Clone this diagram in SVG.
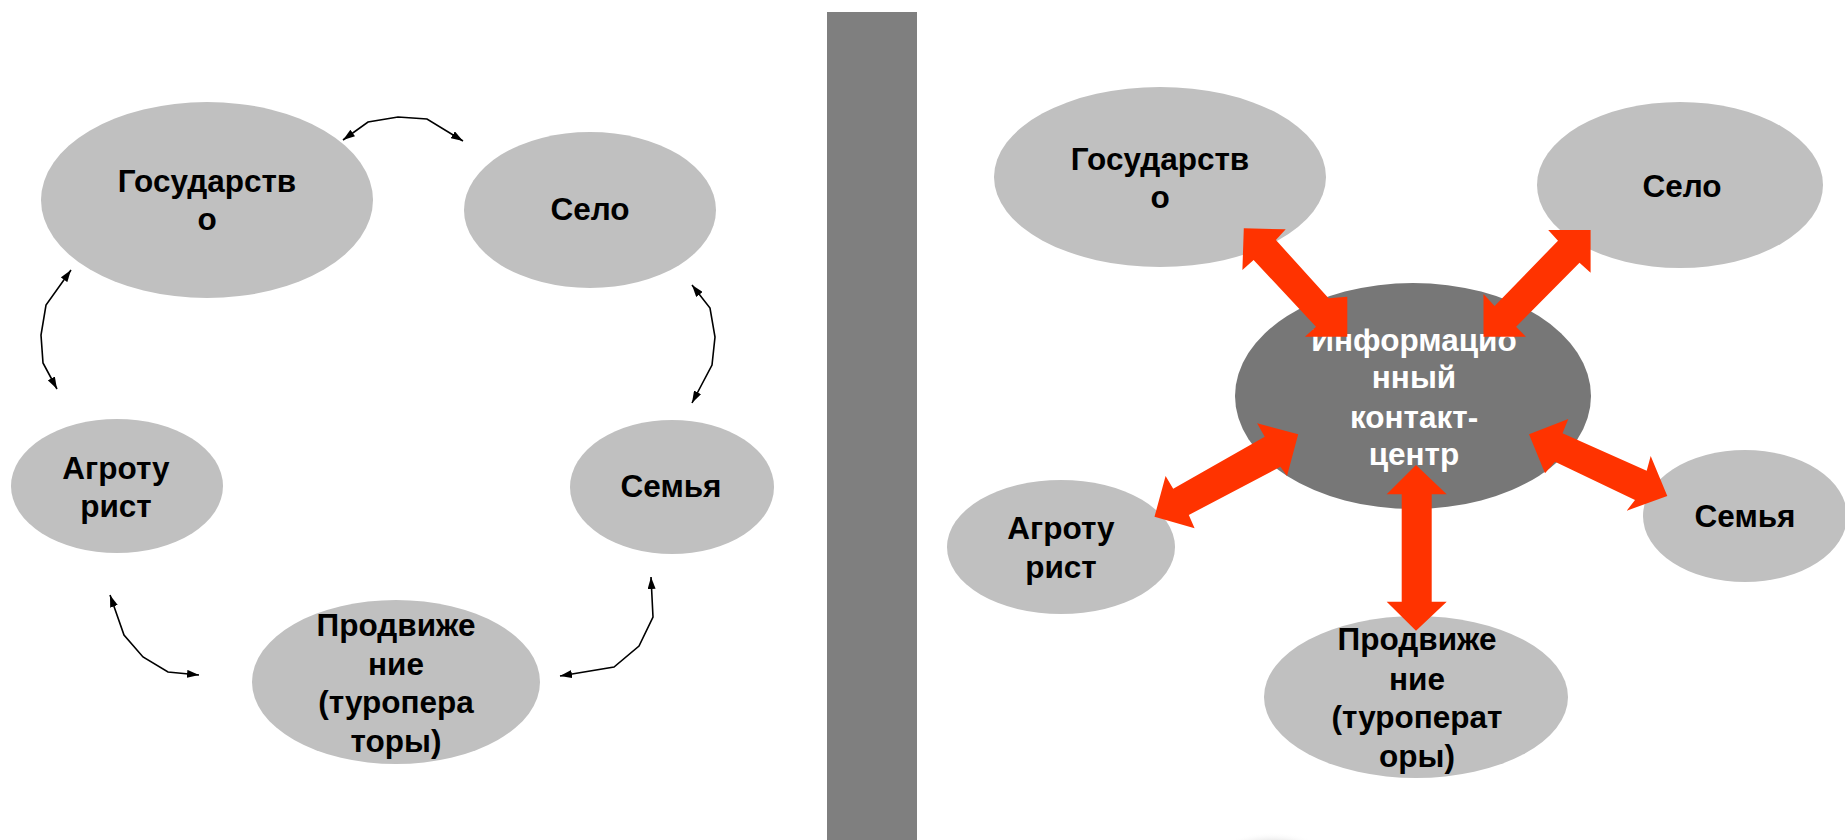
<svg xmlns="http://www.w3.org/2000/svg" width="1845" height="840" viewBox="0 0 1845 840">
<style>
.node{fill:#c0c0c0}
.center{fill:#777777}
.lbl{font-family:"Liberation Sans",Arial,sans-serif;font-weight:bold;font-size:31.5px;fill:#000;text-anchor:middle}
.wlbl{font-family:"Liberation Sans",Arial,sans-serif;font-weight:bold;font-size:31.5px;fill:#fff;text-anchor:middle}
.thin{fill:none;stroke:#000;stroke-width:1.6;marker-start:url(#ah);marker-end:url(#ah)}
.red{fill:#ff3300}
</style>
<defs>
<marker id="ah" viewBox="0 0 12 8" refX="12" refY="4" markerWidth="12" markerHeight="8" markerUnits="userSpaceOnUse" orient="auto-start-reverse">
<path d="M0,0 L12,4 L0,8 z" fill="#000"/>
</marker>
<radialGradient id="sh" cx="0.5" cy="0.5" r="0.5">
<stop offset="0.6" stop-color="#a0a0a0"/>
<stop offset="0.8" stop-color="#ececec"/>
<stop offset="1" stop-color="#ffffff" stop-opacity="0"/>
</radialGradient>
</defs>
<rect width="1845" height="840" fill="#ffffff"/>
<rect id="divider" x="827" y="12" width="90" height="828" fill="#7f7f7f"/>
<ellipse cx="1272" cy="874" rx="70" ry="42" fill="url(#sh)"/>
<ellipse cx="1272" cy="874" rx="40" ry="32" fill="#ffffff"/>

<g id="l-gos"><ellipse class="node" cx="207" cy="200" rx="166" ry="98"/><text class="lbl" x="207" y="192">Государств</text><text class="lbl" x="207" y="230">о</text></g>
<g id="l-selo"><ellipse class="node" cx="590" cy="210" rx="126" ry="78"/><text class="lbl" x="590" y="220">Село</text></g>
<g id="l-agro"><ellipse class="node" cx="117" cy="486" rx="106" ry="67"/><text class="lbl" x="116" y="479">Агроту</text><text class="lbl" x="116" y="517">рист</text></g>
<g id="l-prod"><ellipse class="node" cx="396" cy="682" rx="144" ry="82"/><text class="lbl" x="396" y="636">Продвиже</text><text class="lbl" x="396" y="675">ние</text><text class="lbl" x="396" y="713">(туропера</text><text class="lbl" x="396" y="752">торы)</text></g>
<g id="l-semya"><ellipse class="node" cx="672" cy="487" rx="102" ry="67"/><text class="lbl" x="671" y="497">Семья</text></g>

<g id="r-gos"><ellipse class="node" cx="1160" cy="177" rx="166" ry="90"/><text class="lbl" x="1160" y="170">Государств</text><text class="lbl" x="1160" y="208">о</text></g>
<g id="r-selo"><ellipse class="node" cx="1680" cy="185" rx="143" ry="83"/><text class="lbl" x="1682" y="197">Село</text></g>
<g id="r-semya"><ellipse class="node" cx="1745" cy="516" rx="102" ry="66"/><text class="lbl" x="1745" y="527">Семья</text></g>
<g id="r-agro"><ellipse class="node" cx="1061" cy="547" rx="114" ry="67"/><text class="lbl" x="1061" y="539">Агроту</text><text class="lbl" x="1061" y="578">рист</text></g>
<g id="r-prod"><ellipse class="node" cx="1416" cy="697" rx="152" ry="81"/><text class="lbl" x="1417" y="650">Продвиже</text><text class="lbl" x="1417" y="690">ние</text><text class="lbl" x="1417" y="728">(туроперат</text><text class="lbl" x="1417" y="767">оры)</text></g>
<g id="r-center"><ellipse class="center" cx="1413" cy="396" rx="178" ry="113"/><text class="wlbl" x="1414" y="351">Информацио</text><text class="wlbl" x="1414" y="388">нный</text><text class="wlbl" x="1414" y="428">контакт-</text><text class="wlbl" x="1414" y="465">центр</text></g>

<g id="connectors">
<polyline class="thin" points="343,140 368,122 398,117 427,119 463,141"/>
<polyline class="thin" points="692,285 710,308 715,337 712,365 692,403"/>
<polyline class="thin" points="71,270 46,305 41,335 43,363 57,389"/>
<polyline class="thin" points="110,595 124,635 143,657 168,672 199,675"/>
<polyline class="thin" points="560,676 614,667 639,646 653,617 651,577"/>
<polygon class="red" points="1243.8,228.3 1285.7,229.3 1275.9,240 1328.6,298.3 1347.3,296.7 1347.3,336.7 1304.9,336.7 1316,326.7 1253.6,260 1242.4,270"/>
<polygon class="red" points="1548.2,230 1590.6,230 1590.6,272.7 1579.5,262.7 1516.1,326.7 1525.9,336.7 1483.5,336.7 1483.5,294 1494.6,306 1558,240.7"/>
<polygon class="red" points="1154.5,516.7 1165.6,476 1173.2,488.7 1264.7,436.7 1257.1,423.3 1298.2,434.3 1287,476 1280.4,466.7 1188.8,515 1194.6,528.3"/>
<polygon class="red" points="1529,434.3 1568.3,419 1562.5,433.3 1646.7,470.7 1650.7,456 1667.3,496 1626.7,510.7 1635,500 1555,461.7 1545,473.3"/>
<polygon class="red" points="1416,465 1446.7,494.3 1431.7,494.3 1431.7,601.7 1446.7,601.7 1416,630.7 1386.7,601.7 1401.7,601.7 1401.7,494.3 1386.7,494.3"/>
</g>
</svg>
